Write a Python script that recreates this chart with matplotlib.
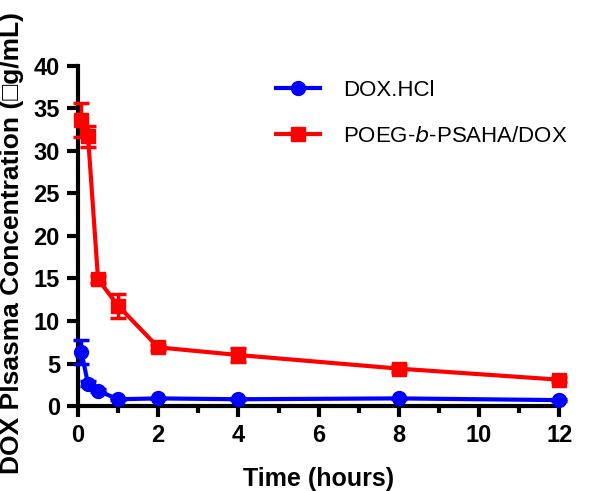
import matplotlib
matplotlib.use("Agg")
import matplotlib.pyplot as plt
from matplotlib.ticker import MultipleLocator
from matplotlib.lines import Line2D

time_h = [0.083, 0.25, 0.5, 1, 2, 4, 8, 12]
dox_hcl = [6.4, 2.6, 1.8, 0.8, 0.9, 0.8, 0.9, 0.7]
dox_hcl_err = [1.4, 0.3, 0.2, 0.1, 0.1, 0.1, 0.1, 0.1]
poeg = [33.6, 31.7, 14.9, 11.8, 6.9, 6.0, 4.4, 3.1]
poeg_err = [2.0, 1.2, 0.4, 1.4, 0.3, 0.8, 0.4, 0.3]
x_ticks = [0, 2, 4, 6, 8, 10, 12]
y_ticks = [0, 5, 10, 15, 20, 25, 30, 35, 40]
labels = ['DOX.HCl', 'POEG-$\\it{b}$-PSAHA/DOX']
colors = ['#0000ff', '#ff0000']
markers = ['o', 's']

plt.rcParams['font.family'] = ['Liberation Sans', 'DejaVu Sans']

fig = plt.figure(figsize=(6, 4.91), dpi=100)
ax = fig.add_axes([0.13, 0.173, 0.802, 0.693])

for y, err, c, m in zip([dox_hcl, poeg], [dox_hcl_err, poeg_err], colors, markers):
    ax.errorbar(time_h, y, yerr=err, color=c, marker=m,
                markersize=10, linewidth=3, capsize=6, capthick=2.5, elinewidth=2.5,
                zorder=3, clip_on=False)

ax.set_xlim(0, 12)
ax.set_ylim(0, 40)
ax.set_xticks(x_ticks)
ax.set_yticks(y_ticks)
ax.xaxis.set_minor_locator(MultipleLocator(1))
for s in ['top', 'right']:
    ax.spines[s].set_visible(False)
for s in ['left', 'bottom']:
    ax.spines[s].set_linewidth(3)
ax.tick_params(axis='both', which='major', width=3, length=8, direction='out',
               labelsize=17, pad=5)
ax.tick_params(axis='x', which='minor', width=3, length=5, direction='out')
for lbl in ax.get_xticklabels() + ax.get_yticklabels():
    lbl.set_fontweight('bold')

ax.set_xlabel('Time (hours)', fontsize=18, fontweight='bold', labelpad=14)
ax.set_ylabel('DOX Plsasma Concentration (\u25a1g/mL)', fontsize=19,
              fontweight='bold', labelpad=7)
ax.yaxis.label.set_y(0.48)

handles = [Line2D([], [], color=c, marker=m, markersize=10, linewidth=3)
           for c, m in zip(colors, markers)]
ax.legend(handles, labels, loc='upper left', bbox_to_anchor=(0.37, 1.018),
          frameon=False, fontsize=16, handlelength=2.0, handletextpad=1.0,
          labelspacing=1.15)

fig.savefig('out.png', dpi=100)
